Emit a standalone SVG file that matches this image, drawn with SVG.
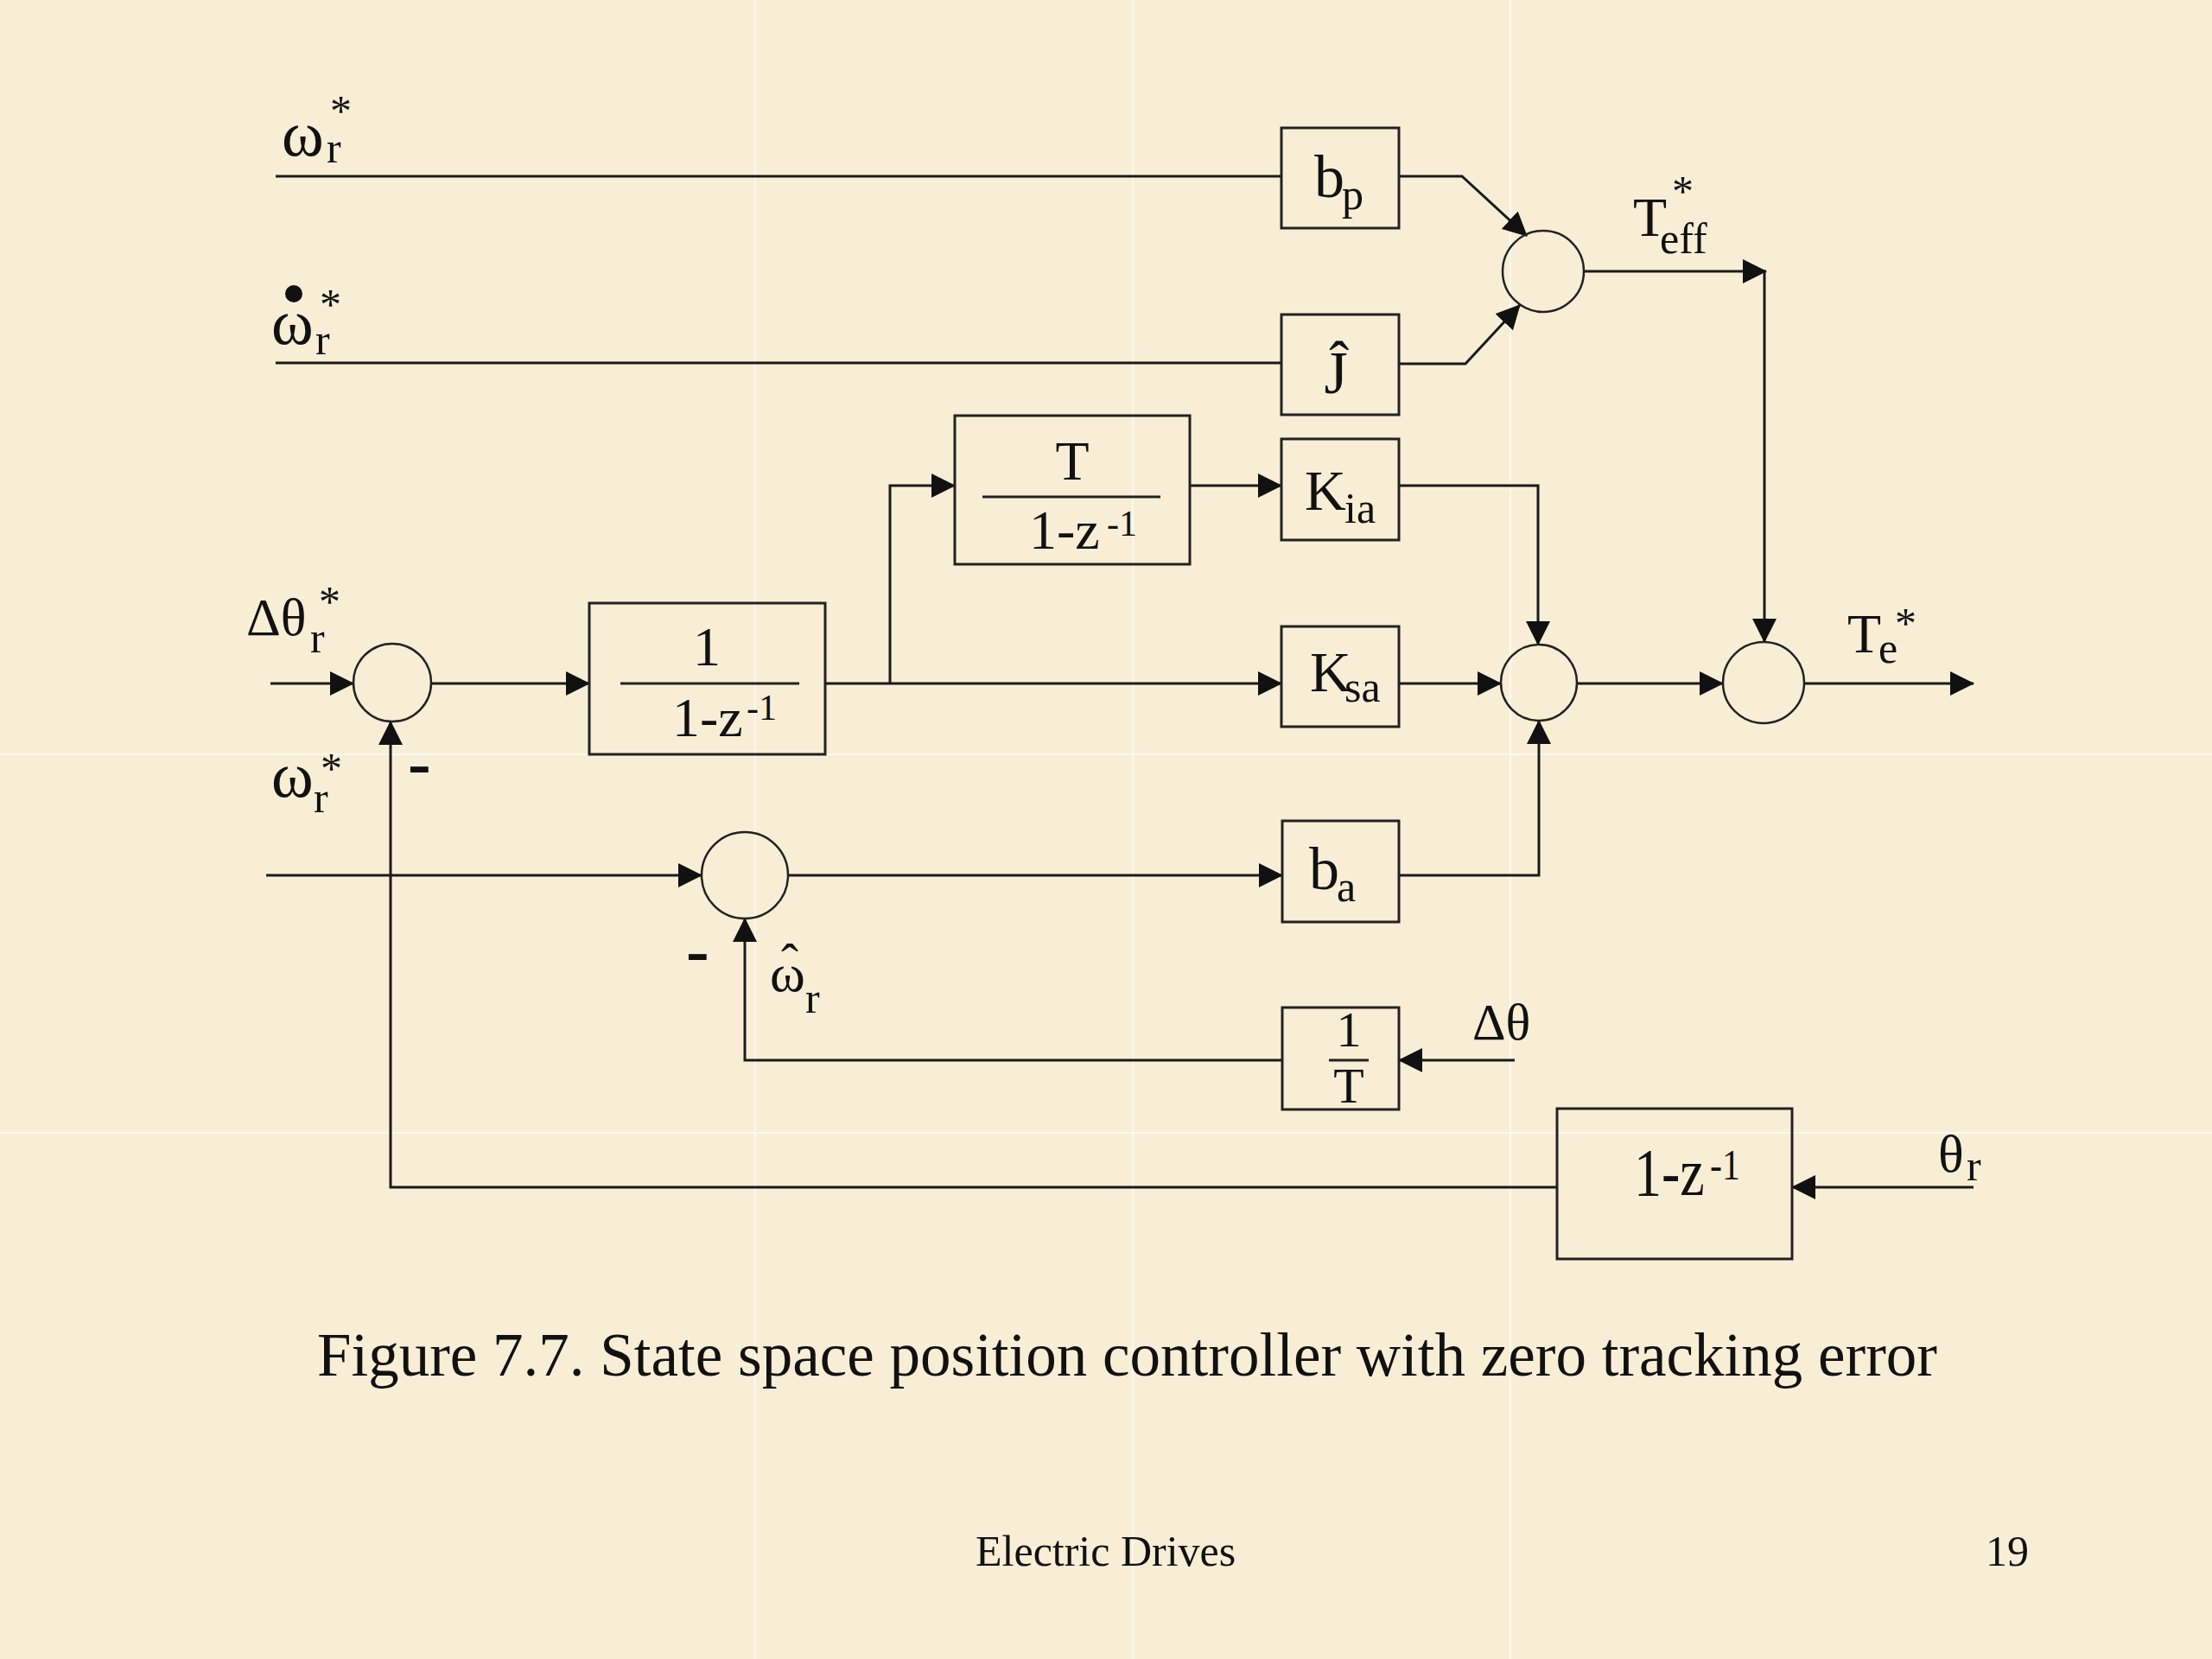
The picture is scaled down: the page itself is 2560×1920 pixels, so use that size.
<svg xmlns="http://www.w3.org/2000/svg" width="2560" height="1920" viewBox="0 0 2560 1920">
<style>
text { font-family: "Liberation Serif", "Times New Roman", serif; fill: #111; }
.m { font-size: 64px; }
.w { font-size: 74px; }
.s { font-size: 50px; }
.sup { font-size: 42px; }
.box { fill: none; stroke: #222; stroke-width: 3; }
.sum { fill: none; stroke: #222; stroke-width: 2.5; }
.wire { fill: none; stroke: #1a1a1a; stroke-width: 3; }
.arr { fill: none; stroke: #1a1a1a; stroke-width: 3; marker-end: url(#ah); }
.frac { stroke: #222; stroke-width: 3; }
.seam { stroke: #ffffff; stroke-width: 2; opacity: 0.6; }
.neg { font-size: 80px; font-weight: bold; }
</style>
<defs>
<marker id="ah" markerUnits="userSpaceOnUse" markerWidth="28" markerHeight="28" refX="27" refY="14" orient="auto">
<path d="M0,0 L28,14 L0,28 z" fill="#111"/>
</marker>
</defs>
<g id="background">
<rect x="0" y="0" width="2560" height="1920" fill="#f8eed6"/>
<line class="seam" x1="874" y1="0" x2="874" y2="1920"/>
<line class="seam" x1="1311" y1="0" x2="1311" y2="1920"/>
<line class="seam" x1="1748" y1="0" x2="1748" y2="1920"/>
<line class="seam" x1="0" y1="873" x2="2560" y2="873"/>
<line class="seam" x1="0" y1="1311" x2="2560" y2="1311"/>
</g>
<g id="connectors">
<line class="wire" x1="319" y1="204" x2="1483" y2="204"/>
<line class="wire" x1="319" y1="420" x2="1483" y2="420"/>
<polyline class="arr" points="1619,204 1692,204 1767,273"/>
<polyline class="arr" points="1619,421 1696,421 1759,353"/>
<polyline class="arr" points="1833,314 2044,314"/>
<polyline class="arr" points="2042,314 2042,743"/>
<polyline class="arr" points="313,791 409,791"/>
<polyline class="arr" points="499,791 682,791"/>
<polyline class="arr" points="955,791 1483,791"/>
<polyline class="arr" points="1030,791 1030,562 1105,562"/>
<polyline class="arr" points="1377,562 1483,562"/>
<polyline class="arr" points="1619,562 1780,562 1780,746"/>
<polyline class="arr" points="1619,791 1737,791"/>
<polyline class="arr" points="1825,791 1994,791"/>
<polyline class="arr" points="2088,791 2284,791"/>
<polyline class="arr" points="1619,1013 1781,1013 1781,834"/>
<polyline class="arr" points="308,1013 812,1013"/>
<polyline class="arr" points="912,1013 1484,1013"/>
<polyline class="arr" points="1484,1227 862,1227 862,1063"/>
<polyline class="arr" points="1753,1227 1619,1227"/>
<polyline class="arr" points="2284,1374 2074,1374"/>
<polyline class="arr" points="1802,1374 452,1374 452,835"/>
</g>
<g id="in-wr">
<text class="m"><tspan class="w" x="326" y="180">ω</tspan><tspan class="s" x="378" y="188">r</tspan><tspan class="s" x="382" y="145">*</tspan></text>
</g>
<g id="in-wrdot">
<circle cx="340" cy="340" r="10" fill="#111"/>
<text class="m"><tspan class="w" x="314" y="398">ω</tspan><tspan class="s" x="365" y="410">r</tspan><tspan class="s" x="370" y="369">*</tspan></text>
</g>
<g id="in-dtheta">
<text class="m" style="font-size:62px"><tspan x="285" y="735">Δθ</tspan><tspan class="s" x="359" y="755">r</tspan><tspan class="s" x="369" y="713">*</tspan></text>
</g>
<g id="in-wr2">
<text class="m"><tspan class="w" x="314" y="922">ω</tspan><tspan class="s" x="363" y="940">r</tspan><tspan class="s" x="371" y="906">*</tspan></text>
<text class="neg" x="472" y="910">-</text>
</g>
<g id="lbl-teff">
<text class="m"><tspan x="1890" y="273">T</tspan><tspan class="s" x="1921" y="293">eff</tspan><tspan class="s" x="1935" y="238">*</tspan></text>
</g>
<g id="lbl-te">
<text class="m"><tspan x="2138" y="755">T</tspan><tspan class="s" x="2174" y="767">e</tspan><tspan class="s" x="2193" y="738">*</tspan></text>
</g>
<g id="lbl-what">
<text class="m"><tspan style="font-size:62px" x="891" y="1147">ω</tspan><tspan style="font-size:60px" x="904" y="1133">ˆ</tspan><tspan class="s" x="932" y="1172">r</tspan></text>
<text class="neg" x="794" y="1127">-</text>
</g>
<g id="lbl-dtheta2">
<text class="m" x="1704" y="1203" style="font-size:60px">Δθ</text>
</g>
<g id="lbl-thetar">
<text class="m"><tspan style="font-size:62px" x="2243" y="1356">θ</tspan><tspan class="s" x="2276" y="1366">r</tspan></text>
</g>
<g id="bp">
<rect class="box" x="1483" y="148" width="136" height="116"/>
<text class="m"><tspan style="font-size:70px" x="1521" y="228">b</tspan><tspan class="s" x="1553" y="242">p</tspan></text>
</g>
<g id="jhat">
<rect class="box" x="1483" y="364" width="136" height="116"/>
<text class="m" x="1546" y="455" text-anchor="middle" style="font-size:70px">Ĵ</text>
</g>
<g id="sum1">
<circle class="sum" cx="1786" cy="314" r="47"/>
</g>
<g id="tint">
<rect class="box" x="1105" y="481" width="272" height="172"/>
<text class="m" x="1241" y="555" text-anchor="middle">T</text>
<line class="frac" x1="1137" y1="575" x2="1343" y2="575"/>
<text class="m"><tspan x="1191" y="635">1-z</tspan><tspan class="sup" x="1281" y="620">-1</tspan></text>
</g>
<g id="kia">
<rect class="box" x="1483" y="508" width="136" height="117"/>
<text class="m"><tspan style="font-size:66px" x="1510" y="590">K</tspan><tspan class="s" x="1556" y="605">ia</tspan></text>
</g>
<g id="sum3">
<circle class="sum" cx="454" cy="790" r="45"/>
</g>
<g id="integ">
<rect class="box" x="682" y="698" width="273" height="175"/>
<text class="m" x="818" y="770" text-anchor="middle">1</text>
<line class="frac" x1="718" y1="791" x2="925" y2="791"/>
<text class="m"><tspan x="778" y="852">1-z</tspan><tspan class="sup" x="864" y="833">-1</tspan></text>
</g>
<g id="ksa">
<rect class="box" x="1483" y="725" width="136" height="116"/>
<text class="m"><tspan style="font-size:66px" x="1516" y="800">K</tspan><tspan class="s" x="1556" y="812">sa</tspan></text>
</g>
<g id="sum2">
<circle class="sum" cx="1781" cy="790" r="44"/>
</g>
<g id="sum4">
<circle class="sum" cx="2041" cy="790" r="47"/>
</g>
<g id="sum5">
<circle class="sum" cx="862" cy="1013" r="50"/>
</g>
<g id="ba">
<rect class="box" x="1484" y="950" width="135" height="117"/>
<text class="m"><tspan style="font-size:70px" x="1515" y="1029">b</tspan><tspan class="s" x="1547" y="1043">a</tspan></text>
</g>
<g id="invT">
<rect class="box" x="1484" y="1166" width="135" height="118"/>
<text class="m" x="1561" y="1211" text-anchor="middle" style="font-size:58px">1</text>
<line class="frac" x1="1538" y1="1227" x2="1584" y2="1227"/>
<text class="m" x="1561" y="1276" text-anchor="middle" style="font-size:58px">T</text>
</g>
<g id="diff">
<rect class="box" x="1802" y="1283" width="272" height="174"/>
<text class="m" transform="translate(1891,1383) scale(1,1.23)"><tspan x="0" y="0">1-z</tspan><tspan class="sup" x="88" y="-15">-1</tspan></text>
</g>
<g id="caption">
<text x="367" y="1592" style="font-size:71px">Figure 7.7. State space position controller with zero tracking error</text>
</g>
<g id="footer">
<text x="1129" y="1812" style="font-size:50px">Electric Drives</text>
<text x="2298" y="1812" style="font-size:50px">19</text>
</g>
</svg>
